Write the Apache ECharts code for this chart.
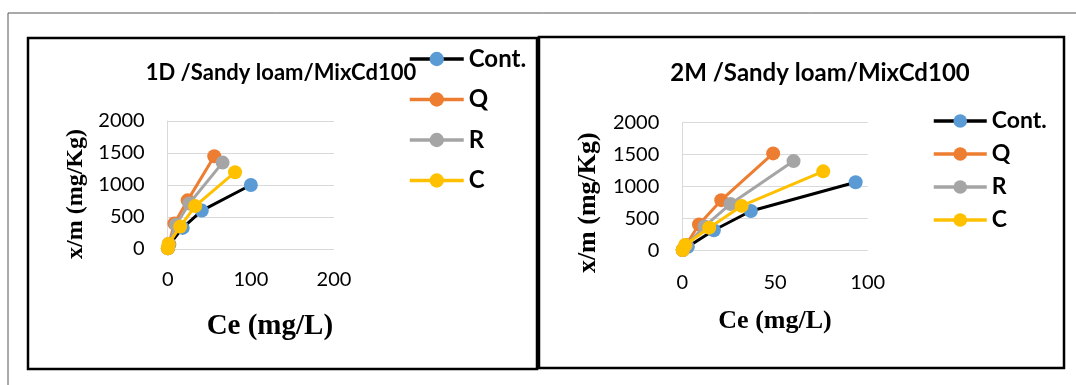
<!DOCTYPE html>
<html>
<head>
<meta charset="utf-8">
<script src="https://cdn.jsdelivr.net/npm/echarts@6/dist/echarts.min.js"></script>
<style>
html,body{margin:0;padding:0;background:#fff;}
#c{width:1076px;height:385px;}
</style>
</head>
<body>
<div id="c"></div>
<script>
// ---- data ----
const seriesNames = ['Cont.', 'Q', 'R', 'C'];
const titles = ['1D /Sandy loam/MixCd100', '2M /Sandy loam/MixCd100'];
const xName = 'Ce (mg/L)';
const yName = 'x/m (mg/Kg)';

// Panel 1: 1D  [Ce, x/m]
const d1Cont = [[0.3, 10], [2, 70], [18, 330], [41, 600], [100, 1000]];
const d1Q    = [[0.2, 10], [1.5, 80], [8, 400], [24, 760], [56, 1450]];
const d1R    = [[0.2, 10], [1.5, 80], [10, 380], [26, 710], [66, 1350]];
const d1C    = [[0.2, 10], [1, 80], [15, 350], [33, 670], [81, 1200]];

// Panel 2: 2M
const d2Cont = [[0.3, 10], [3, 60], [17, 320], [37, 620], [93.5, 1070]];
const d2Q    = [[0.2, 10], [2, 90], [9, 410], [21, 790], [49, 1520]];
const d2R    = [[0.2, 10], [2, 80], [12, 380], [26, 730], [60, 1400]];
const d2C    = [[0.2, 10], [1.5, 90], [14.5, 360], [32, 700], [76, 1240]];

const xMax1 = 200, xInt1 = 100;
const xMax2 = 100, xInt2 = 50;
const yMax = 2000, yInt = 500;

// ---- styles ----
const lineColors = ['#000000', '#ED7D31', '#A5A5A5', '#FFC000'];
const markColors = ['#5B9BD5', '#ED7D31', '#A5A5A5', '#FFC000'];
const sansFont = 'Lato';
const serifFont = '"Liberation Serif", "Times New Roman", serif';

const chart = echarts.init(document.getElementById('c'), null, {renderer: 'canvas'});

function mkSeries(idx, datas) {
  return datas.map((d, i) => ({
    name: seriesNames[i],
    type: 'line',
    xAxisIndex: idx,
    yAxisIndex: idx,
    data: d,
    symbol: 'circle',
    symbolSize: 14,
    showSymbol: true,
    lineStyle: {color: lineColors[i], width: 3},
    itemStyle: {color: markColors[i]},
    emphasis: {disabled: true},
    animation: false,
    z: 2 + i
  }));
}

const plain = v => String(v);

function mkX(gridIndex, max, interval, labelMargin, nameGap, namePad, nameSize) {
  return {
    gridIndex, type: 'value', min: 0, max, interval,
    axisLine: {show: false},
    axisTick: {show: false},
    splitLine: {show: false},
    axisLabel: {fontFamily: sansFont, fontSize: 20, color: '#000', margin: labelMargin, formatter: plain},
    name: xName, nameLocation: 'middle', nameGap,
    nameTextStyle: {fontFamily: serifFont, fontWeight: 'bold', fontSize: nameSize, color: '#000', padding: namePad}
  };
}
function mkY(gridIndex, nameGap, namePad, nameSize) {
  return {
    gridIndex, type: 'value', min: 0, max: yMax, interval: yInt,
    axisLine: {show: true, lineStyle: {color: '#D9D9D9', width: 1}},
    axisTick: {show: false},
    splitLine: {show: true, lineStyle: {color: '#D9D9D9', width: 1}},
    axisLabel: {fontFamily: sansFont, fontSize: 20, color: '#000', margin: 23, formatter: plain},
    name: yName, nameLocation: 'middle', nameGap, nameRotate: 90,
    nameTextStyle: {fontFamily: serifFont, fontWeight: 'bold', fontSize: nameSize, color: '#000', padding: namePad}
  };
}

const option = {
  backgroundColor: '#ffffff',
  animation: false,
  title: [
    {text: titles[0], left: 281, top: 62, textAlign: 'center', padding: 0,
     textStyle: {fontFamily: sansFont, fontWeight: 'bold', fontSize: 22, color: '#000'}},
    {text: titles[1], left: 820, top: 61, textAlign: 'center', padding: 0,
     textStyle: {fontFamily: sansFont, fontWeight: 'bold', fontSize: 24, color: '#000'}}
  ],
  legend: [
    {orient: 'vertical', left: 408, top: 47, padding: 0, itemWidth: 54, itemHeight: 18, itemGap: 16.5,
     data: seriesNames, selectedMode: false, lineStyle: {width: 3.5},
     textStyle: {fontFamily: sansFont, fontWeight: 'bold', fontSize: 24, color: '#000'}},
    {orient: 'vertical', left: 932, top: 109.5, padding: 0, itemWidth: 53, itemHeight: 17, itemGap: 10,
     data: seriesNames, selectedMode: false, lineStyle: {width: 3.5},
     textStyle: {fontFamily: sansFont, fontWeight: 'bold', fontSize: 23, color: '#000'}}
  ],
  grid: [
    {left: 167.7, top: 121, width: 166.3, height: 128},
    {left: 682.3, top: 122.7, width: 185.4, height: 128}
  ],
  xAxis: [
    mkX(0, xMax1, xInt1, 21, 63, [0, 0, 0, 38], 29),
    mkX(1, xMax2, xInt2, 22, 58, 0, 26)
  ],
  yAxis: [
    mkY(0, 80, [0, 18, 0, 0], 24),
    mkY(1, 81, [0, 32, 0, 0], 26)
  ],
  series: [].concat(
    mkSeries(0, [d1Cont, d1Q, d1R, d1C]),
    mkSeries(1, [d2Cont, d2Q, d2R, d2C])
  ),
  graphic: [
    {type: 'rect', shape: {x: 8, y: 13, width: 1100, height: 400}, style: {fill: 'none', stroke: '#555', lineWidth: 1}, silent: true},
    {type: 'rect', shape: {x: 28, y: 38, width: 509, height: 331}, style: {fill: 'none', stroke: '#000', lineWidth: 2.5}, silent: true},
    {type: 'rect', shape: {x: 539, y: 37, width: 525, height: 331}, style: {fill: 'none', stroke: '#000', lineWidth: 2.5}, silent: true}
  ]
};
chart.setOption(option);
</script>
</body>
</html>
